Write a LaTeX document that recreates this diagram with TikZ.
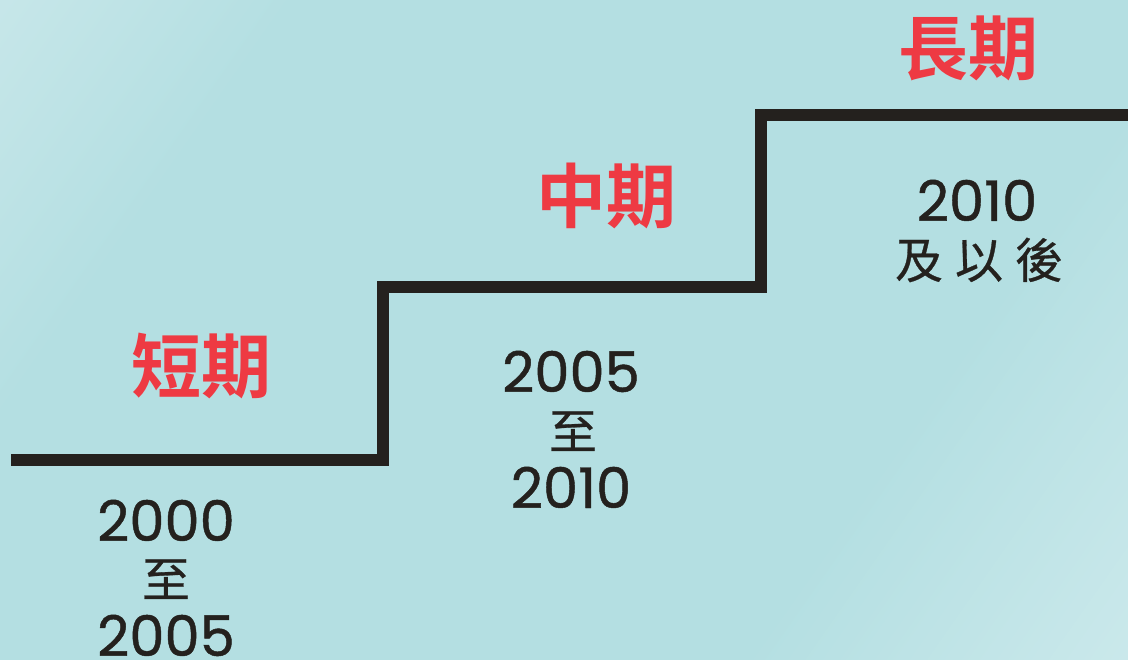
\documentclass[tikz,border=0pt]{standalone}
\usepackage{fontspec}
\newfontfamily\cjk[FakeBold=0.6]{Noto Sans CJK TC}
\newfontfamily\cjkbold{Noto Sans CJK TC Bold}
\newfontfamily\digits[FakeBold=0.8]{Poppins}
\definecolor{bglight}{HTML}{DCEFF1}
\definecolor{bgmid}{HTML}{B4DFE2}
\definecolor{bglight2}{HTML}{DEF1F3}
\definecolor{stairc}{HTML}{24211E}
\definecolor{redc}{HTML}{EE3A43}
\pgfdeclarehorizontalshading{bgshade}{100bp}{color(0bp)=(bglight); color(28bp)=(bgmid); color(68bp)=(bgmid); color(100bp)=(bglight2)}
\tikzset{
  phase/.style={font=\cjkbold\fontsize{70}{70}\selectfont, text=redc, inner sep=0pt, anchor=base},
  yearlbl/.style={font=\digits\fontsize{56}{56}\selectfont, text=stairc, inner sep=0pt, anchor=base, text height=40pt, text depth=0pt},
  cjklbl/.style={font=\cjk\fontsize{48}{48}\selectfont, text=stairc, inner sep=0pt, anchor=base, text height=40pt, text depth=3pt}
}
\tikzset{stairline/.style={draw=stairc, line width=12.5pt, line join=miter}}
\begin{document}
\begin{tikzpicture}[x=1pt,y=-1pt]
\useasboundingbox (0,0) rectangle (1128,660);
\shade[shading=bgshade, shading angle=-35] (0,0) rectangle (1128,660);
% stair
\coordinate (s0) at (11,460);
\coordinate (s1) at (383,460);
\coordinate (s2) at (383,287);
\coordinate (s3) at (761,287);
\coordinate (s4) at (761,115);
\coordinate (s5) at (1128,115);
\draw[stairline] (s0) -- (s1) -- (s2) -- (s3) -- (s4) -- (s5);
% phase labels
\node[phase] (short) at (201,393) {短期};
\node[phase] (mid) at (606,223) {中期};
\node[phase] (long) at (968,75) {長期};
% short term years
\node[yearlbl] (y1a) at (166,541) {2000};
\node[cjklbl] (t1) at (166,597) {至};
\node[yearlbl] (y1b) at (166,656) {2005};
% mid term years
\node[yearlbl] (y2a) at (571,392) {2005};
\node[cjklbl] (t2) at (573,449) {至};
\node[yearlbl] (y2b) at (571,508) {2010};
% long term
\node[yearlbl] (y3a) at (977,221) {2010};
\node[cjklbl] (t3) at (979,278) {及\hspace{12pt}以\hspace{12pt}後};
\end{tikzpicture}
\end{document}
